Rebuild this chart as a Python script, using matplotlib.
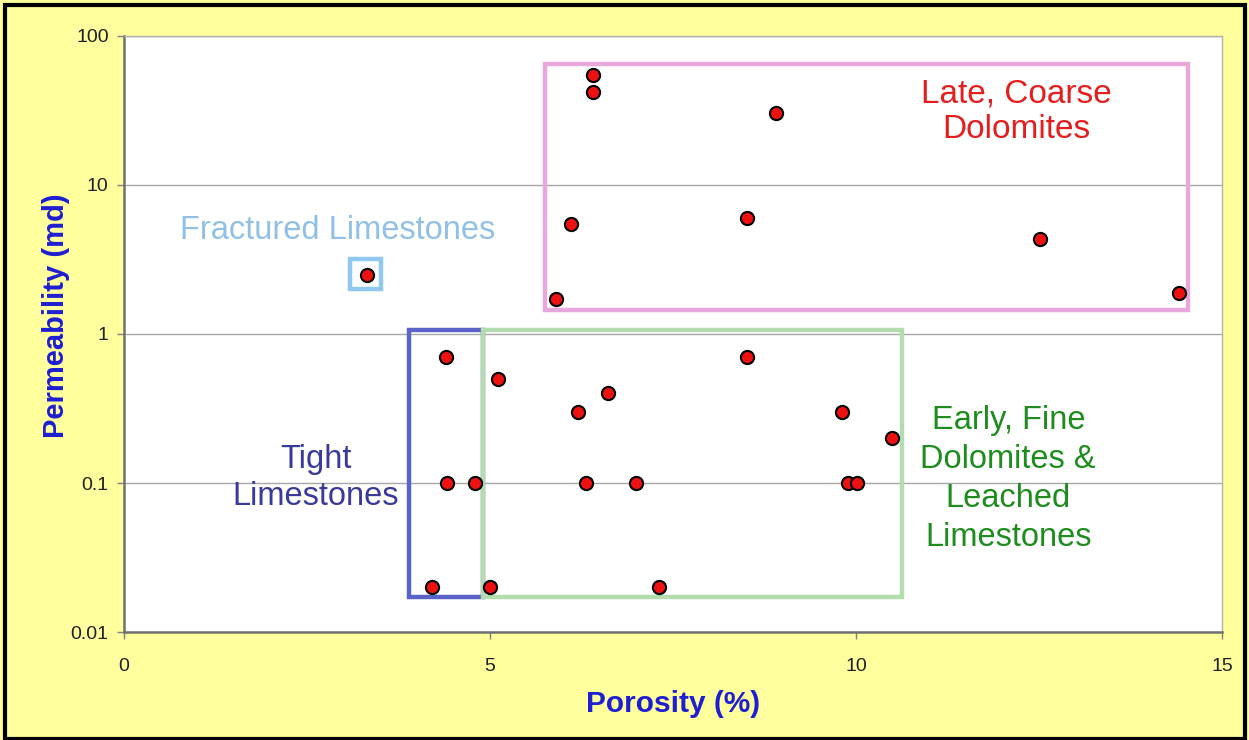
import matplotlib
matplotlib.use("Agg")
import matplotlib.pyplot as plt
from matplotlib.patches import Rectangle

plt.rcParams['font.family'] = ['Liberation Sans', 'DejaVu Sans']

# porosity (%) and permeability (md) of the samples
porosity = [6.41, 6.41, 8.9, 6.1, 8.51, 5.9, 12.51, 14.41, 3.32,
            4.4, 5.11, 6.2, 6.61, 8.51, 9.81, 10.49,
            4.41, 4.8, 6.31, 6.99, 9.89, 10.01,
            4.21, 5.0, 7.31]
permeability = [54.7, 42.0, 30.4, 5.47, 6.0, 1.72, 4.35, 1.88, 2.49,
                0.70, 0.50, 0.30, 0.40, 0.70, 0.30, 0.20,
                0.1, 0.1, 0.1, 0.1, 0.1, 0.1,
                0.02, 0.02, 0.02]

x_ticks = [0, 5, 10, 15]
y_ticks = [0.01, 0.1, 1, 10, 100]
y_tick_labels = ['0.01', '0.1', '1', '10', '100']

# facies groups: (x0, x1, y0, y1), edge colour, label, label position, label colour, size, line spacing
groups = [
    ((5.75, 14.54, 1.45, 64.9), '#e8a8dc', 'Late, Coarse\nDolomites', (12.19, 31.0),
     '#e41e1e', 24, 1.18),
    ((3.09, 3.51, 2.0, 3.18), '#90c8f0', 'Fractured Limestones', (2.92, 4.95),
     '#90c0e8', 23.5, 1.2),
    ((3.89, 4.90, 0.0172, 1.06), '#5a64c8', 'Tight\nLimestones', (2.62, 0.108),
     '#3a3a9a', 23.5, 1.22),
    ((4.90, 10.63, 0.0172, 1.06), '#b4dcae', 'Early, Fine\nDolomites &\nLeached\nLimestones',
     (12.08, 0.107), '#1e8c1e', 23.5, 1.33),
]

fig = plt.figure(figsize=(12.49, 7.40), dpi=100)
fig.patch.set_facecolor('#ffff9e')
fig.add_artist(Rectangle((0.004, 0.002), 0.993, 0.991, transform=fig.transFigure,
                         fill=False, edgecolor='black', linewidth=3))

ax = fig.add_axes([0.0993, 0.1459, 0.8791, 0.8055])
ax.set_facecolor('white')
ax.set_yscale('log')
ax.set_xlim(0, 15)
ax.set_ylim(0.01, 100)

ax.set_xticks(x_ticks)
ax.set_xticklabels([str(t) for t in x_ticks])
ax.set_yticks(y_ticks)
ax.set_yticklabels(y_tick_labels)
ax.minorticks_off()
ax.tick_params(axis='both', direction='out', length=5, width=1, color='#808080',
               labelsize=14, labelcolor='#202020')
ax.tick_params(axis='x', pad=14)
ax.tick_params(axis='y', pad=6)
ax.grid(axis='y', color='#a8a8a8', linewidth=1)
ax.set_axisbelow(True)

for side in ['left', 'bottom']:
    ax.spines[side].set_color('#707070')
    ax.spines[side].set_linewidth(1.8)
for side in ['top', 'right']:
    ax.spines[side].set_color('#b0b0b0')
    ax.spines[side].set_linewidth(1)

for (x0, x1, y0, y1), ec, label, (tx, ty), tc, fs, ls in groups:
    ax.add_patch(Rectangle((x0, y0), x1 - x0, y1 - y0, fill=False,
                           edgecolor=ec, linewidth=3.2, zorder=2))
    ax.text(tx, ty, label, ha='center', va='center', color=tc, fontsize=fs,
            linespacing=ls, zorder=4)

ax.scatter(porosity, permeability, s=90, c='#ee1111', edgecolors='black',
           linewidths=1.5, zorder=3)

ax.set_xlabel('Porosity (%)', fontsize=21.5, fontweight='bold', color='#1e1ed2')
ax.set_ylabel('Permeability (md)', fontsize=21, fontweight='bold', color='#1e1ed2')
ax.xaxis.set_label_coords(0.5, -0.097)
ax.yaxis.set_label_coords(-0.049, 0.53)

fig.savefig('out.png', dpi=100, facecolor=fig.get_facecolor())
